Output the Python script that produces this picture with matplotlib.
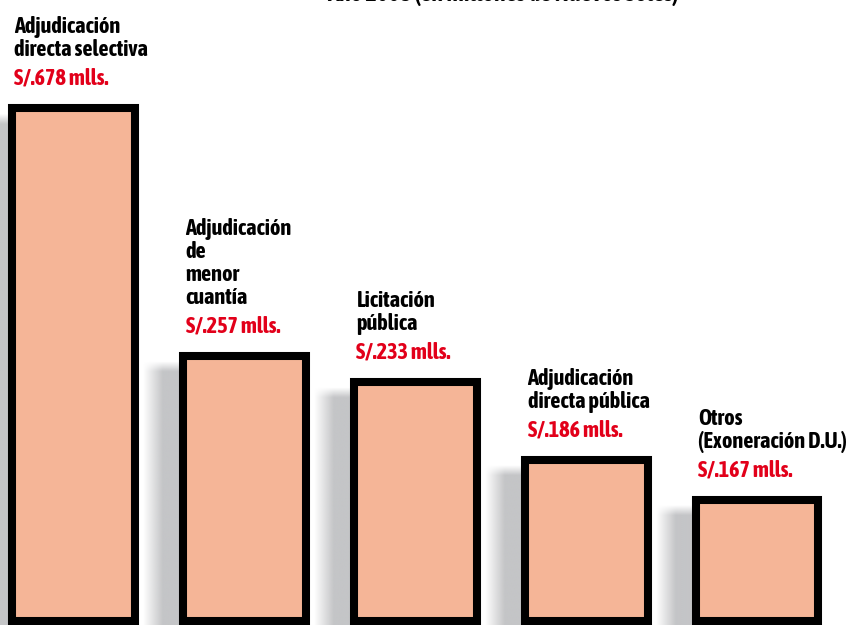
import numpy as np
import matplotlib.pyplot as plt
from matplotlib import font_manager as fm
from matplotlib.colors import to_rgb

# data
categories = ["Adjudicación\ndirecta selectiva",
              "Adjudicación\nde\nmenor\ncuantía",
              "Licitación\npública",
              "Adjudicación\ndirecta pública",
              "Otros\n(Exoneración D.U.)"]
values = [678, 257, 233, 186, 167]          # millones de soles
bar_heights = [513, 265, 239, 161, 121]     # drawn bar lengths as seen in the picture
title = "Año 2008 (en millones de Nuevos Soles)"

# look for a narrow / condensed face, the original uses a condensed heavy type
narrow = None
for f in fm.fontManager.ttflist:
    s = f.stretch
    cond = ("Narrow" in f.name or "Condensed" in f.name or
            s in ("condensed", "semi-condensed", "extra-condensed", "ultra-condensed") or
            (isinstance(s, int) and s < 100))
    if cond:
        w = f.weight if isinstance(f.weight, int) else 700 if "bold" in str(f.weight) else 400
        if narrow is None or w > narrow[1]:
            narrow = (f.name, w)
FONT = [narrow[0], "DejaVu Sans"] if narrow else ["DejaVu Sans"]

FILL = "#f5b597"
SHADOW = "#c4c5c7"
RED = "#e2001a"

px_x = 1 / 171.0      # one pixel in x data units

fig = plt.figure(figsize=(8.52, 6.25), dpi=100)
ax = fig.add_axes([0, 0, 1, 1])
ax.set_xlim(-73 * px_x, (852 - 73) * px_x)
ax.set_ylim(-4, 621)
ax.axis("off")

x = np.arange(len(categories))
width = 123 * px_x

# soft shadows left of each bar
sh_w = 36 * px_x
rgb = np.array(to_rgb(SHADOW))
for xi, h in zip(x, bar_heights):
    nx, ny = 80, 300
    a_x = np.clip(np.linspace(0, 1, nx) / 0.55, 0, 1)
    top = h - 5
    ys = np.linspace(0, top + 4, ny)          # distance from top of shadow
    a_y = np.clip(ys / 10.0, 0, 1)
    img = np.zeros((ny, nx, 4))
    img[..., :3] = rgb
    img[..., 3] = a_y[:, None] * a_x[None, :]
    left = xi - width / 2 - 4 * px_x
    ax.imshow(img, extent=[left - sh_w, left, -4, top], aspect="auto",
              origin="upper", zorder=1, interpolation="bilinear")

ax.bar(x, bar_heights, width=width, bottom=0, color=FILL, edgecolor="black",
       linewidth=5.8, zorder=2)

# labels above the bars
for xi, h, cat, v in zip(x, bar_heights, categories, values):
    tx = xi - width / 2 + 3 * px_x
    ax.text(tx, h + 18, f"S/.{v} mlls.", color=RED, fontsize=16,
            fontweight="bold", family=FONT, fontstretch="condensed",
            ha="left", va="bottom", zorder=3)
    ax.text(tx, h + 47, cat, color="black", fontsize=16, fontweight="bold",
            family=FONT, fontstretch="condensed", ha="left", va="bottom",
            linespacing=1.05, zorder=3)

fig.text(503 / 852, 1 - 1 / 625, title, fontsize=17.5, fontweight="bold",
         family=FONT, fontstretch="condensed", ha="center", va="baseline")

fig.savefig("out.png", dpi=100)
